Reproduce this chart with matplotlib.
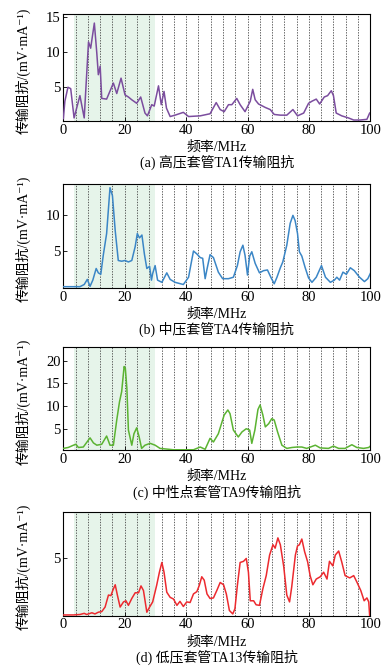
import matplotlib
matplotlib.use('Agg')
import matplotlib.pyplot as plt

plt.rcParams['font.family'] = ['Liberation Serif', 'DejaVu Serif', 'Noto Sans CJK SC']

# (a) 高压套管TA1
freq_a = [0, 0.5, 1.5, 2.4, 3.5, 5.4, 6.8, 8.2, 8.9, 10.1, 10.9, 11.4, 12.0, 12.5, 14.1,
          16.3, 17.4, 18.8, 20.1, 21.2, 22.3, 23.9, 25.2, 26.6, 27.4, 28.8, 29.6, 31.0,
          31.9, 32.8, 33.6, 34.8, 36.4, 39.1, 40.8, 44.6, 47.8, 49.8, 51.1, 52.4, 53.8,
          54.9, 56.5, 57.6, 59.2, 60.9, 61.7, 62.5, 63.6, 65.8, 67.4, 68.7, 70.7, 72.8,
          74.8, 76.3, 78.3, 79.9, 81.0, 82.4, 83.5, 85.0, 86.1, 87.3, 88.0, 88.9, 90.7,
          92.9, 94.6, 96.7, 98.9, 99.8]
imp_a = [0.5, 3.0, 5.0, 4.8, 0.6, 3.8, 0.6, 11.5, 10.6, 14.2, 9.9, 6.8, 8.0, 3.4, 3.3,
         5.6, 4.1, 6.3, 3.9, 3.6, 3.2, 2.7, 3.6, 1.3, 0.9, 2.5, 2.3, 5.2,
         2.5, 4.4, 2.0, 0.8, 1.0, 1.4, 0.8, 0.9, 1.2, 2.8, 1.8, 1.5, 2.5,
         2.5, 3.4, 2.5, 1.5, 3.0, 4.7, 3.2, 2.6, 2.1, 1.8, 1.1, 1.0, 1.0,
         1.8, 0.9, 1.3, 2.7, 3.0, 3.3, 2.6, 3.6, 3.8, 4.5, 3.8, 1.3, 0.9,
         0.6, 0.3, 0.3, 0.4, 1.3]

# (b) 中压套管TA4
freq_b = [0, 2.0, 5.4, 6.8, 7.8, 8.7, 9.6, 10.7, 11.4, 12.2, 13.0, 14.1, 15.2, 16.0, 16.9,
          17.9, 19.0, 20.1, 21.2, 22.3, 23.4, 24.1, 24.8, 25.6, 26.4, 27.2, 28.1, 28.7,
          29.1, 29.9, 30.7, 32.1, 33.7, 34.8, 36.4, 39.1, 40.8, 41.5, 42.4, 43.5, 44.6,
          45.4, 46.2, 46.8, 47.8, 48.9, 50.5, 51.9, 53.8, 55.4, 56.7, 57.6, 58.5, 59.2,
          60.0, 60.7, 61.4, 62.5, 63.9, 65.2, 66.5, 67.6, 68.7, 69.6, 70.7, 71.5, 72.8,
          73.9, 74.8, 75.5, 76.3, 76.9, 77.7, 78.8, 79.9, 81.0, 82.4, 84.1, 85.4, 87.0,
          88.3, 89.1, 90.0, 91.1, 92.2, 93.5, 94.8, 96.5, 98.1, 99.2, 100]
imp_b = [0.1, 0.1, 0.1, 0.4, 1.1, 0.15, 1.0, 2.6, 2.0, 1.8, 4.4, 7.4, 13.7, 12.6, 7.8,
         3.7, 3.6, 3.7, 3.5, 3.7, 5.6, 7.4, 6.8, 7.2, 4.6, 2.6, 2.9, 1.0,
         1.9, 3.0, 1.0, 0.7, 2.0, 1.1, 0.7, 0.4, 1.4, 3.0, 5.0, 4.6, 4.1,
         4.0, 1.2, 2.5, 4.5, 4.1, 2.1, 1.2, 1.2, 1.4, 3.0, 4.9, 5.8, 4.4,
         1.7, 4.3, 4.9, 3.3, 2.0, 2.3, 2.4, 1.4, 0.5, 1.4, 2.7, 3.5, 5.8,
         8.8, 9.9, 9.2, 7.4, 4.9, 4.3, 2.7, 1.3, 0.7, 1.4, 3.0, 1.4, 0.7,
         1.0, 1.4, 1.0, 2.1, 1.8, 2.7, 2.3, 1.4, 0.8, 1.2, 1.9]

# (c) 中性点套管TA9
freq_c = [0, 1.6, 3.3, 4.1, 4.9, 6.5, 8.7, 9.8, 10.9, 12.5, 14.1, 15.2, 16.3, 17.4, 18.3,
          19.0, 19.8, 20.2, 20.7, 21.2, 22.3, 23.0, 23.9, 24.7, 25.5, 26.6, 28.3, 29.9,
          31.5, 35.9, 42.4, 44.6, 46.2, 47.8, 48.9, 50.5, 52.4, 53.6, 54.3, 55.4, 57.0,
          58.2, 59.6, 60.7, 61.4, 62.4, 63.4, 64.1, 65.0, 65.8, 66.9, 67.9, 68.7, 69.8,
          71.2, 72.8, 74.5, 76.1, 77.7, 79.3, 82.1, 83.7, 86.4, 88.0, 89.7, 91.8, 94.0,
          95.6, 97.8, 99.5, 100]
imp_c = [0.8, 1.0, 1.5, 1.7, 1.0, 1.1, 3.1, 2.0, 1.5, 1.7, 3.5, 1.5, 1.5, 7.0, 11.0,
         13.2, 18.7, 18.3, 13.9, 4.8, 1.5, 4.0, 5.3, 3.3, 0.8, 1.5, 1.9, 1.5,
         0.8, 0.5, 0.5, 1.1, 0.6, 3.0, 2.2, 4.0, 8.1, 9.2, 8.4, 4.8, 3.3,
         4.4, 5.1, 4.8, 1.9, 4.8, 9.3, 10.3, 8.1, 5.5, 6.2, 7.3, 7.0, 4.4,
         1.5, 0.8, 1.0, 1.1, 1.1, 0.8, 1.5, 0.9, 0.8, 1.3, 0.8, 0.8, 1.6,
         1.0, 0.8, 1.0, 1.3]

# (d) 低压套管TA13
freq_d = [0, 3.3, 5.4, 6.8, 7.6, 9.3, 10.3, 11.4, 12.5, 13.6, 14.7, 15.5, 16.1, 16.9, 17.6,
          18.5, 19.6, 20.4, 21.2, 22.3, 23.4, 24.5, 25.3, 26.1, 27.2, 28.1, 29.1, 30.4,
          31.3, 32.1, 32.8, 33.7, 34.8, 35.9, 37.0, 38.0, 39.1, 40.2, 41.3, 42.4, 43.5,
          44.3, 45.1, 45.9, 46.8, 47.8, 48.9, 50.0, 51.1, 52.2, 53.1, 54.1, 55.2, 55.9,
          56.7, 57.6, 58.7, 59.6, 60.3, 60.9, 62.0, 62.8, 63.9, 65.0, 66.1, 67.2, 68.3,
          69.0, 69.9, 70.7, 71.8, 72.8, 73.7, 74.4, 75.6, 76.3, 76.9, 77.7, 78.6, 79.6,
          80.4, 81.3, 82.4, 83.7, 84.8, 85.9, 86.7, 87.8, 88.6, 89.7, 90.7, 91.8, 93.3,
          94.6, 95.7, 96.9, 98.0, 98.9, 99.5, 99.8]
imp_d = [0.06, 0.06, 0.1, 0.2, 0.1, 0.25, 0.15, 0.3, 0.35, 0.75, 1.8, 1.75, 2.2, 2.7, 1.8,
         0.75, 1.2, 1.3, 0.9, 1.5, 2.0, 2.0, 2.6, 2.2, 0.3, 0.75, 1.2, 2.65,
         3.8, 4.65, 3.8, 2.05, 1.6, 1.45, 0.9, 1.25, 0.8, 1.2, 1.15, 1.9, 2.1,
         2.65, 3.4, 3.1, 1.9, 1.5, 1.55, 2.2, 2.9, 2.7, 1.9, 0.45, 0.15, 0.6,
         2.65, 4.65, 4.75, 5.0, 3.8, 1.3, 1.3, 0.95, 0.9, 2.35, 3.5, 5.3, 6.2,
         5.9, 6.8, 6.2, 4.3, 1.8, 1.2, 2.5, 5.3, 6.1, 6.2, 6.7, 5.6, 4.7,
         3.5, 2.7, 3.2, 3.4, 3.8, 3.2, 4.75, 4.35, 5.3, 5.65, 4.7, 3.5, 3.3,
         3.5, 2.9, 2.2, 1.3, 1.55, 1.2, 0.0]

band = (3.5, 30.0)
grid_freqs = list(range(4, 100, 4))

panels = [
    (freq_a, imp_a, '#7b4d9e', (0.2, 15.5), [5, 10, 15], '(a) 高压套管TA1传输阻抗'),
    (freq_b, imp_b, '#3b86c6', (-0.1, 14.2), [5, 10], '(b) 中压套管TA4传输阻抗'),
    (freq_c, imp_c, '#5bb332', (0.4, 23.0), [5, 10, 15, 20], '(c) 中性点套管TA9传输阻抗'),
    (freq_d, imp_d, '#ec2a2f', (0.0, 9.1), [5], '(d) 低压套管TA13传输阻抗'),
]
# axes rectangles in figure fraction [left, bottom, width, height]
rects = [
    [0.162, 0.819, 0.785, 0.160],
    [0.162, 0.568, 0.785, 0.156],
    [0.162, 0.325, 0.785, 0.155],
    [0.162, 0.077, 0.785, 0.156],
]

fig = plt.figure(figsize=(3.91, 6.67), dpi=100)

for (fx, fy, color, ylim, yticks, caption), rect in zip(panels, rects):
    ax = fig.add_axes(rect)
    ax.axvspan(band[0], band[1], color='#e6f4ea', zorder=0, lw=0)
    for g in grid_freqs:
        ax.axvline(g, color='#444444', lw=0.6, ls=(0, (1.6, 1.6)), zorder=1)
    ax.plot(fx, fy, color=color, lw=1.1, zorder=3)
    ax.set_xlim(0, 100)
    ax.set_ylim(*ylim)
    ax.set_xticks([0, 20, 40, 60, 80, 100])
    ax.set_yticks(yticks)
    ax.tick_params(direction='in', length=3, width=0.6, labelsize=10.5, pad=2)
    for sp in ax.spines.values():
        sp.set_linewidth(0.8)
    ax.set_ylabel('传输阻抗/(mV·mA⁻¹)', fontsize=10, labelpad=6)
    ax.yaxis.set_label_coords(-0.105, 0.47)
    ax.set_xlabel('频率/MHz', fontsize=10, labelpad=3)
    ax.annotate(caption, xy=(0.5, 0), xycoords='axes fraction',
                xytext=(0, -30), textcoords='offset points',
                ha='center', va='center', fontsize=10)

fig.savefig('out.png', dpi=100)
